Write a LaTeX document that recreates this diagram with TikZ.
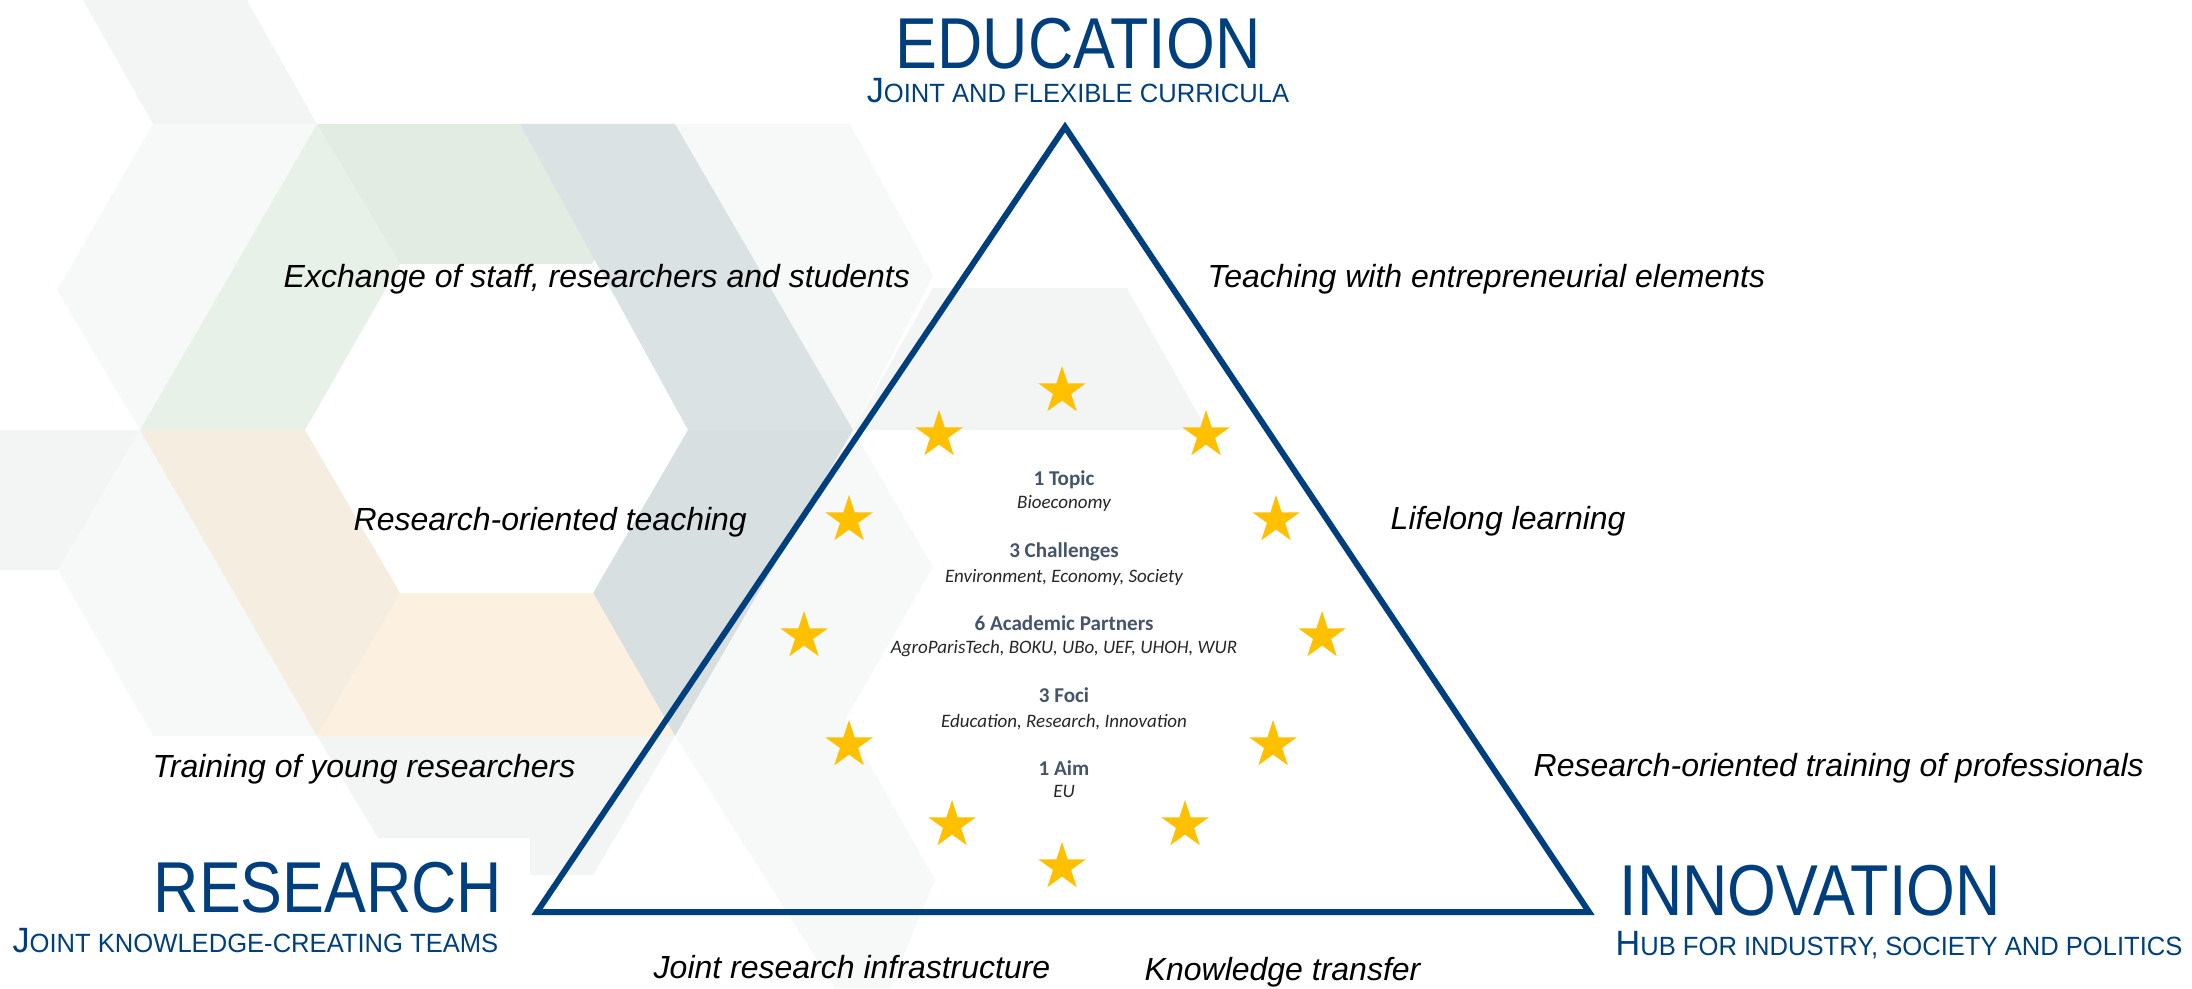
\documentclass[tikz,border=0pt]{standalone}
\usepackage{fontspec}
\setmainfont{Liberation Sans}
\newfontfamily\titlefont[FakeStretch=0.87]{Liberation Sans}
\newfontfamily\subfont[FakeStretch=0.97]{Liberation Sans}
\newfontfamily\calfont{Carlito}
\usetikzlibrary{shapes.geometric}

\definecolor{navy}{HTML}{003F7D}
\definecolor{slate}{HTML}{44546A}
\definecolor{gold}{HTML}{FFC000}
\definecolor{hexgrey}{HTML}{F3F5F4}
\definecolor{hexlight}{HTML}{F7F9F9}
\definecolor{hexgreen}{HTML}{E3ECE3}
\definecolor{hexlgreen}{HTML}{E8F1E7}
\definecolor{hexblue}{HTML}{DAE2E4}
\definecolor{hexdblue}{HTML}{D8DFE1}
\definecolor{hexbeige}{HTML}{F4EDE0}
\definecolor{hexpeach}{HTML}{FCF1E1}

% small caps by hand
\newcommand{\scpart}[1]{{\fontsize{7.5}{9}\selectfont #1}}

\begin{document}
\begin{tikzpicture}[x=0.01cm, y=-0.01cm,
    headline/.style={text=navy, inner sep=0pt, font=\titlefont\fontsize{20.5}{24}\selectfont},
    subline/.style={text=navy, inner sep=0pt, font=\subfont\fontsize{10}{12}\selectfont},
    sidetext/.style={inner sep=0pt, anchor=base west, font=\itshape\fontsize{9.1}{11}\selectfont},
    topic/.style={inner sep=0pt, anchor=base, text=slate, font=\calfont\bfseries\fontsize{6}{7}\selectfont},
    topicsub/.style={inner sep=0pt, anchor=base, text=black!85, font=\calfont\itshape\fontsize{5.4}{6.5}\selectfont},
    eustar/.style={star, star points=5, star point ratio=2.618, fill=gold, inner sep=0pt, minimum size=0.5cm}]
\useasboundingbox (0,0) rectangle (2192,988);

% background hexagons
\fill[hexgrey] (83,0) -- (247,0) -- (317,124) -- (153,124) -- cycle;
\fill[hexlight] (153,124) -- (317,124) -- (140,430) -- (57,290) -- cycle;
\fill[hexgrey] (0,430) -- (140,430) -- (58,570) -- (0,570) -- cycle;
\fill[hexlight] (140,430) -- (317,736) -- (153,736) -- (58,570) -- cycle;
\fill[hexgrey] (317,736) -- (675,736) -- (593,875) -- (530,875) -- (530,838) -- (378,838) -- cycle;
\fill[hexlight] (675,124) -- (850,124) -- (933,276) -- (853,430) -- cycle;
\fill[hexgrey] (853,430) -- (933,288) -- (1127,288) -- (1207,430) -- cycle;
\fill[hexlight] (853,430) -- (933,567) -- (845,720) -- (935,880) -- (890,988) -- (835,988) -- (675,736) -- cycle;
% the ring
\fill[hexlgreen] (140,430) -- (317,124) -- (400,264) -- (305,430) -- cycle;
\fill[hexgreen] (317,124) -- (675,124) -- (592,264) -- (400,264) -- cycle;
\fill[hexblue] (520,124) -- (675,124) -- (853,430) -- (688,430) -- cycle;
\fill[hexdblue] (853,430) -- (675,736) -- (593,593) -- (688,430) -- cycle;
\fill[hexpeach] (675,736) -- (317,736) -- (400,593) -- (593,593) -- cycle;
\fill[hexbeige] (317,736) -- (140,430) -- (305,430) -- (400,593) -- cycle;

% triangle
\coordinate (apex) at (1065,127);
\coordinate (left) at (537,912);
\coordinate (right) at (1589,912);
\draw[navy, line width=1.7pt] (apex) -- (left) -- (right) -- cycle;

% stars
\foreach \x/\y [count=\i] in {1062/391, 1206/435, 1276/520, 1322/636, 1273/745, 1185/825,
    1062/867, 952/825, 849/745, 804/636, 849/520, 939/435}
  \node[eustar] (star\i) at (\x,\y) {};

% corners
\node[headline, anchor=base] (edu) at (1078,69) {EDUCATION};
\node[subline, anchor=base] (edusub) at (1078,103) {J\scpart{OINT AND FLEXIBLE CURRICULA}};
\node[headline, anchor=base east] (res) at (503,912) {RESEARCH};
\node[subline, anchor=base east] (ressub) at (499,952) {J\scpart{OINT KNOWLEDGE-CREATING TEAMS}};
\node[headline, anchor=base west] (inn) at (1619,915) {INNOVATION};
\node[subline, anchor=base west] (innsub) at (1615,955) {H\scpart{UB FOR INDUSTRY, SOCIETY AND POLITICS}};

% side texts
\node[sidetext] (exchange) at (283,287) {Exchange of staff, researchers and students};
\node[sidetext] (teachent) at (1207,287) {Teaching with entrepreneurial elements};
\node[sidetext] (resteach) at (353,530) {Research-oriented teaching};
\node[sidetext] (lifelong) at (1390,529) {Lifelong learning};
\node[sidetext] (training) at (152,777) {Training of young researchers};
\node[sidetext] (proftrain) at (1533,776) {Research-oriented training of professionals};
\node[sidetext] (infra) at (653,978) {Joint research infrastructure};
\node[sidetext] (transfer) at (1144,980) {Knowledge transfer};

% centre
\node[topic] (topic1) at (1064,485) {1 Topic};
\node[topicsub] (topic1sub) at (1064,508) {Bioeconomy};
\node[topic] (chall) at (1064,557) {3 Challenges};
\node[topicsub] (challsub) at (1064,582) {Environment, Economy, Society};
\node[topic] (partners) at (1064,630) {6 Academic Partners};
\node[topicsub] (partnersub) at (1064,653) {AgroParisTech, BOKU, UBo, UEF, UHOH, WUR};
\node[topic] (foci) at (1064,702) {3 Foci};
\node[topicsub] (focisub) at (1064,727) {Education, Research, Innovation};
\node[topic] (aim) at (1064,775) {1 Aim};
\node[topicsub] (aimsub) at (1064,797) {EU};
\end{tikzpicture}
\end{document}
